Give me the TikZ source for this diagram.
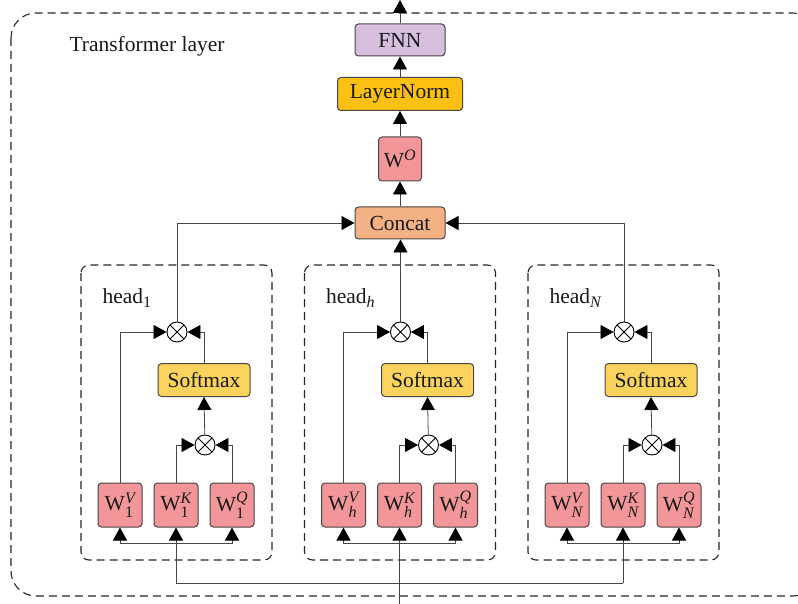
\documentclass[tikz,border=0pt]{standalone}
\usepackage{fontspec}
\setmainfont{Liberation Serif}
\usepackage{amsmath}
\DeclareMathSizes{21.5}{21.5}{16}{13}
\usetikzlibrary{arrows.meta}
\definecolor{fnncol}{RGB}{214,190,221}
\definecolor{normcol}{RGB}{252,192,18}
\definecolor{wcol}{RGB}{243,150,154}
\definecolor{catcol}{RGB}{244,177,131}
\definecolor{smcol}{RGB}{250,211,92}
\definecolor{linecol}{RGB}{70,70,70}

\begin{document}
\begin{tikzpicture}[x=1pt, y=-1pt,
  font=\fontsize{21.5}{25}\selectfont, text=black!90,
  box/.style={draw=linecol, line width=1pt, rounded corners=3.5pt, inner sep=0pt},
  wbox/.style={box, fill=wcol, minimum width=44pt, minimum height=44pt},
  mul/.style={circle, draw=black, line width=0.9pt, minimum size=20pt, inner sep=0pt, fill=white,
    path picture={\draw[line width=0.9pt] (path picture bounding box.north west) -- (path picture bounding box.south east)
      (path picture bounding box.north east) -- (path picture bounding box.south west);}},
  frame/.style={dashed, dash pattern=on 8pt off 5pt, line width=1.1pt, draw=black!85},
  arr/.style={draw=linecol, line width=0.8pt, -{Triangle[length=13pt, width=14pt, color=black]}},
  wire/.style={draw=linecol, line width=0.8pt}]
\useasboundingbox (0,0) rectangle (798,604);
\begin{scope}
  \clip (0,0) rectangle (798,604);
  \draw[frame, rounded corners=25pt] (11,13) rectangle (818,596);
\end{scope}
\node[anchor=west] (title) at (66,46) {Transformer layer};

% output column
\node[box, fill=fnncol, minimum width=90pt, minimum height=32pt] (fnn) at (400,40) {FNN};
\node[box, fill=normcol, minimum width=125pt, minimum height=33pt] (norm) at (400,94) {LayerNorm};
\node[box, fill=wcol, minimum width=43pt, minimum height=44pt] (wo) at (400,159) {W$^{\textit{O}}$};
\node[box, fill=catcol, minimum width=90pt, minimum height=32pt] (concat) at (400,223) {Concat};
\coordinate (out) at (400,0);
\draw[arr] (concat) -- (wo);
\draw[arr] (wo) -- (norm);
\draw[arr] (norm) -- (fnn);
\draw[arr] (fnn) -- (out);

% heads
\foreach \i/\dx/\sub in {1/0/{\text{1}}, h/223.5/{\textit{h}}, N/447/{\textit{N}}}{
  \begin{scope}[xshift=\dx]
    \draw[frame, rounded corners=8pt] (81,265) rectangle (272,560);
    \node[anchor=west] (lab\i) at (99,298) {head$_{\sub}$};
    \node[mul] (mt\i) at (177,332) {};
    \node[box, fill=smcol, minimum width=92pt, minimum height=33pt] (sm\i) at (204,380) {Softmax};
    \node[mul] (mb\i) at (205,445) {};
    \node[wbox] (v\i) at (120,505) {W$^{\textit{V}}_{\sub}$};
    \node[wbox] (k\i) at (176,505) {W$^{\textit{K}}_{\sub}$};
    \node[wbox] (q\i) at (232,505) {W$^{\textit{Q}}_{\sub}$};
    \coordinate (bus\i) at (176,543);
    \draw[arr] (v\i.north) |- (mt\i.west);
    \draw[arr] (sm\i.north) |- (mt\i.east);
    \draw[arr] (k\i.north) |- (mb\i.west);
    \draw[arr] (q\i.north) |- (mb\i.east);
    \draw[arr] (mb\i) -- (sm\i.south);
    \draw[arr] (bus\i) -| (v\i.south);
    \draw[arr] (bus\i) -| (q\i.south);
  \end{scope}
}

% into concat
\draw[arr] (mt1.north) |- (concat.west);
\draw[arr] (mth.north) -- (mth.north |- concat.south);
\draw[arr] (mtN.north) |- (concat.east);

% input
\coordinate (in) at (399.5,604);
\coordinate (bl) at (176,583);
\coordinate (br) at (623,583);
\draw[wire] (bl) -- (br);
\draw[arr] (bl) -- (k1.south);
\draw[arr] (br) -- (kN.south);
\draw[arr] (in) -- (kh.south);
\end{tikzpicture}
\end{document}
